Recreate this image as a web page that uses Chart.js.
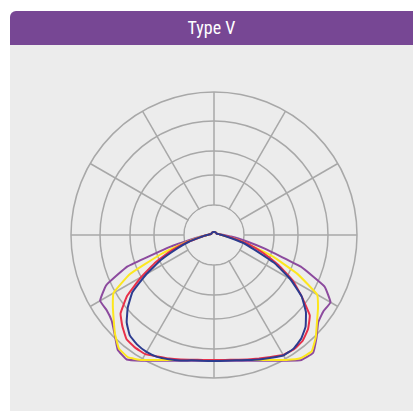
<!DOCTYPE html>
<html><head><meta charset="utf-8">
<script src="https://cdn.jsdelivr.net/npm/chart.js@4"></script>
<style>
html,body{margin:0;padding:0;background:#fff;width:413px;height:411px;overflow:hidden;}
#panel{position:absolute;left:10px;top:45px;width:403px;height:366px;background:#ececec;}
#header{position:absolute;left:10px;top:11px;width:403px;height:34px;background:#774794;border-top-left-radius:6px;color:#fff;font-family:"Liberation Sans Narrow","Roboto Condensed",Roboto,sans-serif;font-size:18px;line-height:34px;text-align:center;}
#wrap{position:absolute;left:0;top:0;width:413px;height:411px;}
</style></head>
<body>
<div id="panel"></div>
<div id="header">Type V</div>
<div id="wrap"><canvas id="c" width="413" height="411"></canvas></div>
<script>
// angles in degrees, measured from straight down (nadir), going round to the left, up, then right (72 values)
const angleLabels = [
  0,5,10,15,20, 25,30,35,40,45, 50,55,60,65,70, 75,80,85,90,
  95,100,105,110,115, 120,125,130,135,140, 145,150,155,160,165, 170,175,180,185,190,
  195,200,205,210,215, 220,225,230,235,240, 245,250,255,260,265,
  270,275,280,285,290, 295,300,305,310,315, 320,325,330,335,340, 345,350,355];
// radial grid rings
const ringValues = [0, 30, 60, 84, 114, 143];

// each series: 19 values (0..90), 35 values (95..265), 18 values (270..355)
const seriesPurple = [
  125.7,126.2,127.6,130.1,133.8, 138.7,145.1,152,149.8,140.5, 133.5,131,131.5,119,92, 45,20,11,7,
  5,4,3.5,3,3, 3,3,3,3,3, 3,3,3,3,3, 3,3,3,3,3, 3,3,3,3,3, 3,3,3,3,3, 3,3.5,4,5,7,
  10,17,30,52,92, 122,134.5,133.4,136,145, 154,152.5,145.1,138.7,133.8, 130.1,127.6,126.2];
const seriesYellow = [
  125,125.5,126.9,129.4,133, 137.9,144.3,149.5,148,140, 131,123.5,116,93,57, 30,16,10,7,
  5,4,3.5,3,3, 3,3,3,3,3, 3,3,3,3,3, 3,3,3,3,3, 3,3,3,3,3, 3,3,3,3,3, 3,3.5,4,5,6,
  8,11,20,35,62, 92,119,127,134.5,144, 152,150.5,144.3,137.9,133, 129.4,126.9,125.5];
const seriesRed = [
  125,125.4,126.6,128.9,131.5, 134,137.5,137.5,136,129.5, 122,106,84,64,45, 28,15,10,7,
  5,4,3.5,3,3, 3,3,3,3,3, 3,3,3,3,3, 3,3,3,3,3, 3,3,3,3,3, 3,3,3,3,3, 3,3.5,4,5,6,
  8,12,20,36,52, 71,91,107,125,133, 138,139.5,138.5,134.5,131.5, 128.9,126.6,125.4];
const seriesBlue = [
  126,126.3,127.3,129.8,132.2, 134.5,135,133.8,131,123.5, 112.5,99.5,78,58,39, 26,15,10,7,
  5,4,3.5,3,3, 3,3,3,3,3, 3,3,3,3,3, 3,3,3,3,3, 3,3,3,3,3, 3,3,3,3,3, 3,3.5,4,5,6,
  8,11,17,30,43, 67,88,107,120,129.5, 135.5,138.7,139,135.5,132.5, 129.5,127.3,126.3];

const PANEL_BG = '#ececec';
const GRID = '#a8a8a8';

const innerMask = {
  id: 'innerMask',
  beforeDatasetsDraw(chart) {
    const s = chart.scales.r;
    const ctx = chart.ctx;
    const rad = s.getDistanceFromCenterForValue(ringValues[1]) - 0.8;
    ctx.save();
    ctx.beginPath();
    ctx.arc(s.xCenter, s.yCenter, rad, 0, Math.PI * 2);
    ctx.fillStyle = PANEL_BG;
    ctx.fill();
    ctx.restore();
  }
};

function ds(label, data, color) {
  return { label, data, borderColor: color, backgroundColor: color, borderWidth: 2,
    pointRadius: 0, pointHoverRadius: 0, fill: false, tension: 0.1, clip: false };
}

new Chart(document.getElementById('c'), {
  type: 'radar',
  data: {
    labels: angleLabels,
    datasets: [
      ds('Blue', seriesBlue, '#2c3b8f'),
      ds('Red', seriesRed, '#e8304a'),
      ds('Yellow', seriesYellow, '#fde71e'),
      ds('Purple', seriesPurple, '#8c4a9e')
    ]
  },
  options: {
    responsive: false,
    devicePixelRatio: 1,
    animation: false,
    layout: { padding: { left: 71, right: 56, top: 92, bottom: 33 } },
    plugins: { legend: { display: false }, tooltip: { enabled: false } },
    scales: {
      r: {
        min: 0, max: 143,
        startAngle: 180,
        afterBuildTicks: (s) => { s.ticks = ringValues.map(v => ({ value: v })); },
        ticks: { display: false },
        pointLabels: { display: false },
        grid: { circular: true, color: GRID, lineWidth: 1.5 },
        angleLines: { color: GRID, lineWidth: (ctx) => (ctx.index % 6 === 0 ? 1.5 : 0) }
      }
    }
  },
  plugins: [innerMask]
});
</script>
</body></html>
